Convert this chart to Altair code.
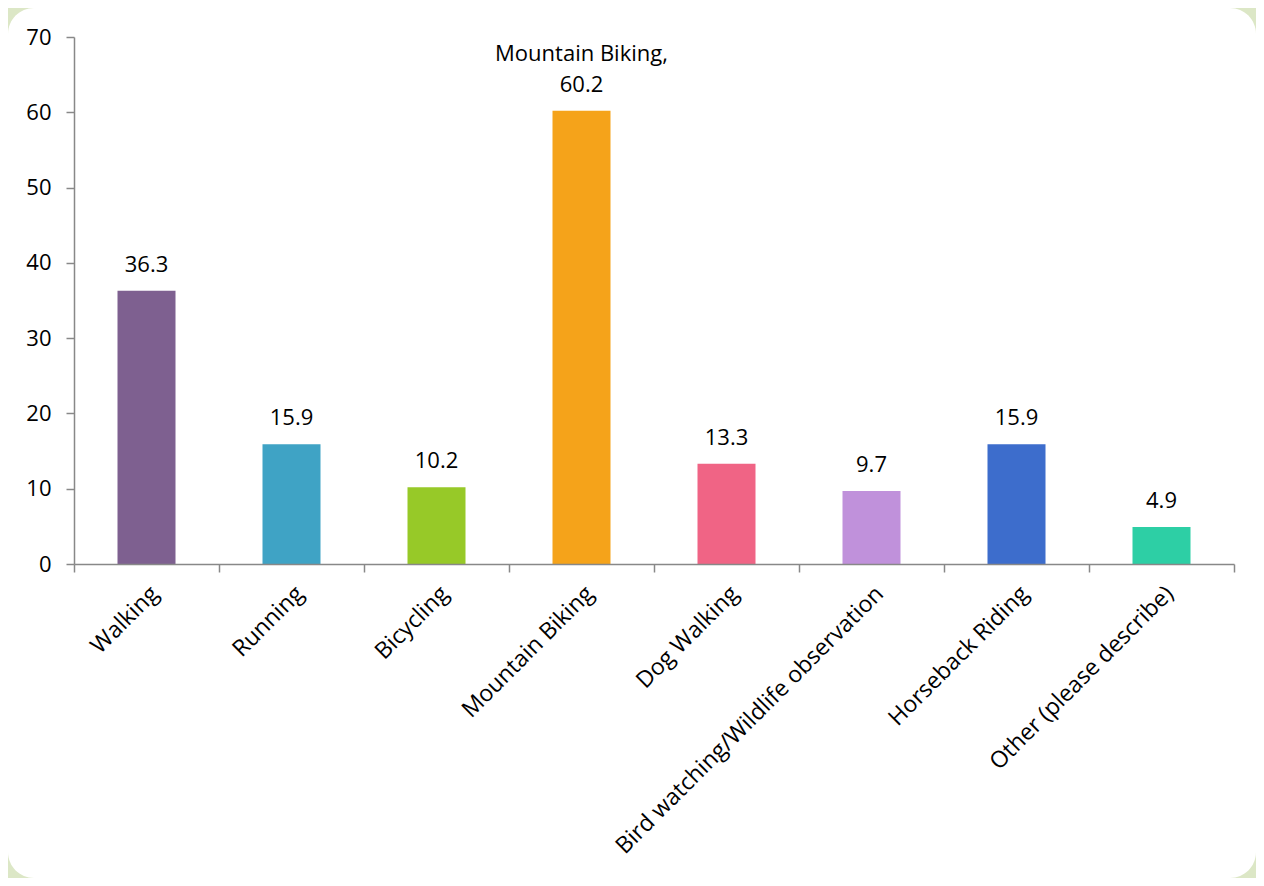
import altair as alt
import pandas as pd

categories = ["Walking", "Running", "Bicycling", "Mountain Biking", "Dog Walking",
              "Bird watching/Wildlife observation", "Horseback Riding", "Other (please describe)"]
values = [36.3, 15.9, 10.2, 60.2, 13.3, 9.7, 15.9, 4.9]
value_labels = ["36.3", "15.9", "10.2", "60.2", "13.3", "9.7", "15.9", "4.9"]
name_labels = ["", "", "", "Mountain Biking,", "", "", "", ""]
colors = ["#7e6090", "#3fa3c5", "#97c928", "#f5a31a", "#f06485", "#c091db", "#3d6dcc", "#2dcfa5"]

df = pd.DataFrame({"cat": categories, "val": values, "vlabel": value_labels, "nlabel": name_labels})

W, H = 1160, 527
PL, PT, PR, PB = 66, 29, 22, 314
FONT = "Open Sans"
FS = 22

bg = alt.Chart(pd.DataFrame({"a": [0]})).mark_rect(
    fill="white", cornerRadius=26, strokeWidth=0
).encode(
    x=alt.value(-PL), x2=alt.value(W + PR),
    y=alt.value(-PT), y2=alt.value(H + PB)
)

xenc = alt.X("cat:N", sort=categories, title=None,
             scale=alt.Scale(paddingInner=0, paddingOuter=0),
             axis=alt.Axis(labelAngle=-45, labelFontSize=23, labelFont=FONT, labelColor="#000",
                           domainColor="#888", domainWidth=1.5, tickColor="#888", tickWidth=1.5,
                           tickSize=8, tickBand="extent", labelPadding=10, labelLimit=500, zindex=1))

bars = alt.Chart(df).mark_bar(width=alt.RelativeBandSize(0.4)).encode(
    x=xenc,
    y=alt.Y("val:Q", title=None,
            scale=alt.Scale(domain=[0, 70]),
            axis=alt.Axis(values=list(range(0, 71, 10)), grid=False, labelFontSize=FS,
                          labelFont=FONT, labelColor="#000", domainColor="#888", domainWidth=1.5,
                          tickColor="#888", tickWidth=1.5, tickSize=8, labelPadding=15, zindex=1)),
    color=alt.Color("cat:N", sort=categories, legend=None,
                    scale=alt.Scale(domain=categories, range=colors))
)

text = alt.Chart(df).mark_text(
    baseline="bottom", dy=-14, fontSize=FS, font=FONT, color="#000"
).encode(
    x=alt.X("cat:N", sort=categories),
    y="val:Q",
    text="vlabel:N"
)

name_text = alt.Chart(df).mark_text(
    baseline="bottom", dy=-45, fontSize=FS, font=FONT, color="#000"
).encode(
    x=alt.X("cat:N", sort=categories),
    y="val:Q",
    text="nlabel:N"
)

chart = alt.layer(bg, bars, text, name_text).properties(
    width=W, height=H,
    autosize=alt.AutoSizeParams(type="none"),
    padding={"left": PL, "top": PT, "right": PR, "bottom": PB},
    background="#dce7c6"
).configure_view(stroke=None)

chart.save("out.html", embed_options={"renderer": "svg", "actions": False})
